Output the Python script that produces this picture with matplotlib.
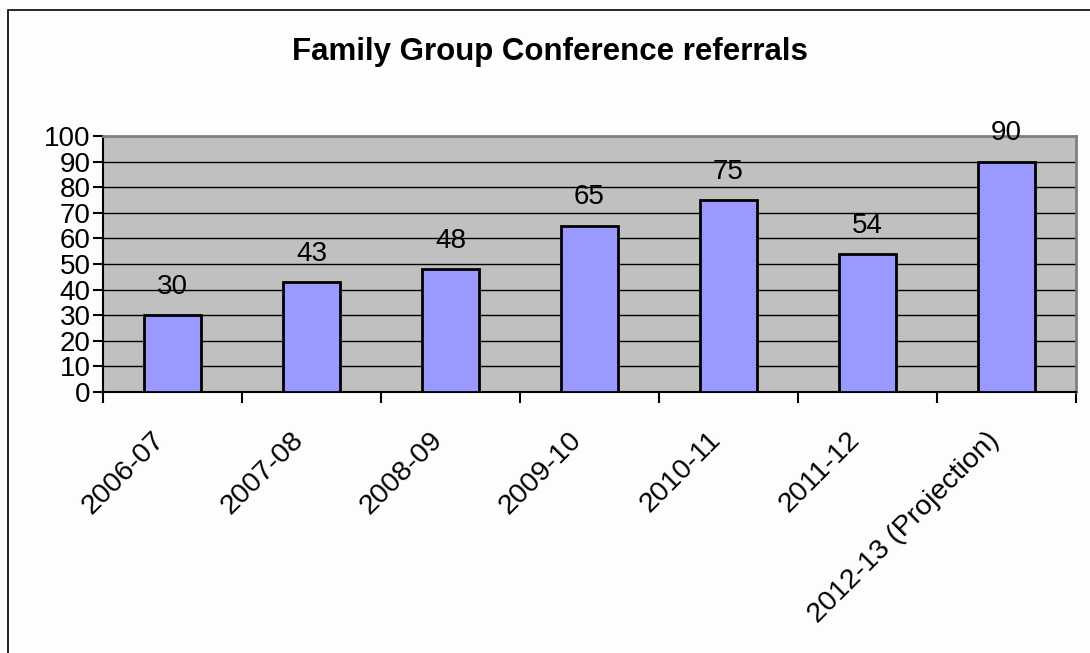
import matplotlib.pyplot as plt
import numpy as np
from matplotlib.patches import Rectangle

plt.rcParams['font.family'] = ['Liberation Sans', 'DejaVu Sans']

years = ['2006-07', '2007-08', '2008-09', '2009-10', '2010-11', '2011-12',
         '2012-13 (Projection)']
referrals = [30, 43, 48, 65, 75, 54, 90]
y_ticks = list(range(0, 101, 10))

fig = plt.figure(figsize=(10.9, 6.53), dpi=100)
fig.patch.set_facecolor('#fdfdfd')
# chart border (runs off the right and bottom edges)
fig.patches.append(Rectangle((8 / 1090, -0.05), 1.2, 1 - 10 / 653 + 0.05,
                             transform=fig.transFigure, fill=False,
                             edgecolor='black', linewidth=1.2))

ax = fig.add_axes([103 / 1090, 1 - 392 / 653, (1076 - 103) / 1090, (392 - 136) / 653])
ax.set_facecolor('#c0c0c0')

x = np.arange(len(years))
bars = ax.bar(x, referrals, width=0.41, color='#9999ff', edgecolor='black',
              linewidth=2, zorder=3)
for xi, v in zip(x, referrals):
    ax.text(xi, v + 11, str(v), ha='center', va='center', fontsize=20, zorder=4)

ax.set_xlim(-0.5, len(years) - 0.5)
ax.set_ylim(0, 100)
ax.set_yticks(y_ticks)
ax.set_yticklabels([str(t) for t in y_ticks], fontsize=20)
ax.yaxis.grid(True, color='black', linewidth=1)
ax.set_axisbelow(True)
ax.tick_params(axis='y', direction='out', length=7, width=1.5, pad=2)

# category boundaries carry the tick marks; the slanted labels hang
# just left of each bar centre
ax.set_xticks(np.arange(len(years) + 1) - 0.5)
ax.set_xticklabels([])
ax.tick_params(axis='x', direction='out', length=8, width=1.5)
ax.set_xticks(x - 0.15, minor=True)
ax.set_xticklabels(years, minor=True, rotation=45, ha='right', va='top',
                   rotation_mode='anchor', fontsize=20.5)
ax.tick_params(axis='x', which='minor', length=0, pad=25)

ax.spines['left'].set_linewidth(1.5)
ax.spines['bottom'].set_linewidth(1.5)
for side in ('top', 'right'):
    ax.spines[side].set_color('#808080')
    ax.spines[side].set_linewidth(2)

fig.text(550 / 1090, 1 - 52 / 653, 'Family Group Conference referrals',
         ha='center', va='center', fontsize=22.5, fontweight='bold')

fig.savefig('out.png', dpi=100, facecolor=fig.get_facecolor())
